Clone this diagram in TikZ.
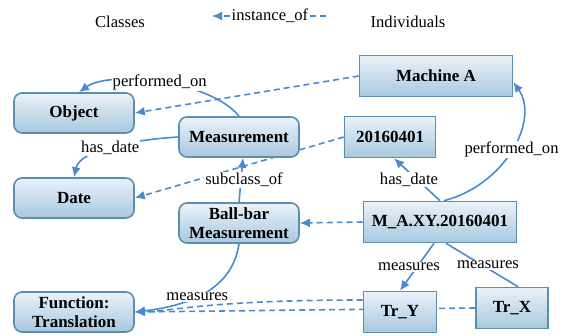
\documentclass[tikz,border=0pt]{standalone}
\usepackage{fontspec}
\setmainfont{Liberation Serif}
\usetikzlibrary{arrows.meta,backgrounds}

\definecolor{linkblue}{RGB}{74,139,207}
\definecolor{boxtop}{RGB}{234,242,249}
\definecolor{boxbottom}{RGB}{168,200,223}
\definecolor{boxline}{RGB}{92,143,174}

\tikzset{
    cls/.style={draw=boxline, line width=0.8pt, rounded corners=4pt,
        top color=boxtop, bottom color=boxbottom,
        minimum width=60pt, minimum height=20pt, inner sep=1pt, align=center,
        font=\fontsize{8.5}{9.5}\selectfont\bfseries},
    ind/.style={draw=boxline, line width=0.8pt,
        top color=boxtop, bottom color=boxbottom,
        minimum height=20.5pt, inner sep=1pt,
        font=\fontsize{8.5}{9.5}\selectfont\bfseries},
    rel/.style={draw=linkblue, line width=0.8pt},
    inst/.style={rel, dash pattern=on 3pt off 2pt},
    lbl/.style={fill=white, inner sep=0.5pt, font=\fontsize{8.3}{9.5}\selectfont},
}

\begin{document}
\begin{tikzpicture}[x=0.5pt, y=-0.5pt, >={Latex[length=5pt,width=4.5pt]}]
            \useasboundingbox (0,0) rectangle (572,336);

            % headings and legend
            \node[lbl] (classes) at (120,22) {Classes};
            \node[lbl] (indiv) at (408,22) {Individuals};
            \node[lbl] (leg) at (270,16) {instance\_of};
            \coordinate (legtip) at (212,16);
            \coordinate (legend) at (328,16);
            \draw[inst,->] (leg.west) -- (legtip);
            \draw[inst] (leg.east) -- (legend);

            % classes
            \node[cls] (obj) at (74,113) {Object};
            \node[cls] (date) at (74,198) {Date};
            \node[cls] (fn) at (74,312) {Function:\\Translation};
            \node[cls] (meas) at (239,137) {Measurement};
            \node[cls] (bb) at (239,223) {Ball-bar\\Measurement};

            % individuals
            \node[ind, minimum width=76.5pt] (mach) at (436,76) {Machine A};
            \node[ind, minimum width=45.5pt] (day) at (390,137) {20160401};
            \node[ind, minimum width=76.5pt] (maxy) at (440,222) {M\_A.XY.20160401};
            \node[ind, minimum width=36.5pt] (try) at (400,312) {Tr\_Y};
            \node[ind, minimum width=36pt] (trx) at (512,308) {Tr\_X};

            \begin{scope}[on background layer]
                \draw[inst,->] (mach.west) -- (obj.east);
                \draw[inst,->] (day.west) -- (date.east);
                \draw[inst,->] (maxy.west) -- (bb.east);
                \draw[inst,->] ([yshift=6pt]try.west) .. controls (210,300) and (175,311) .. (fn.east);
                \draw[inst,->] (trx.west) -- (fn.east);
            \end{scope}

            \draw[rel,->] (meas.north) .. controls (210,80) and (110,70) .. ([xshift=2.5pt]obj.north)
                node[lbl,pos=0.5] {performed\_on};
            \draw[rel,->] (meas.west) .. controls (130,140) and (80,150) .. (date.north)
                node[lbl,pos=0.5] {has\_date};
            \draw[rel,->] (bb.north) -- ([xshift=2pt]meas.south)
                node[lbl,pos=0.5,xshift=1.5pt] {subclass\_of};
            \draw[rel,->] (bb.south) .. controls (232,292) and (185,306) .. (fn.east)
                node[lbl,pos=0.55] {measures};

            \draw[rel,->] (maxy.north) -- ([xshift=2pt]day.south)
                node[lbl,pos=0.5,xshift=-4pt] {has\_date};
            \draw[rel,->] ([xshift=2pt]maxy.north) .. controls (505,185) and (540,120) .. ([yshift=-3pt]mach.east)
                node[lbl,pos=0.5] {performed\_on};
            \draw[rel,->] ([xshift=-3pt]maxy.south) -- (try.north)
                node[lbl,pos=0.5,xshift=-4pt] {measures};
            \draw[rel] ([xshift=3pt]maxy.south) -- ([xshift=3pt]trx.north)
                node[lbl,pos=0.5,xshift=3pt] {measures};
        \end{tikzpicture}
\end{document}
